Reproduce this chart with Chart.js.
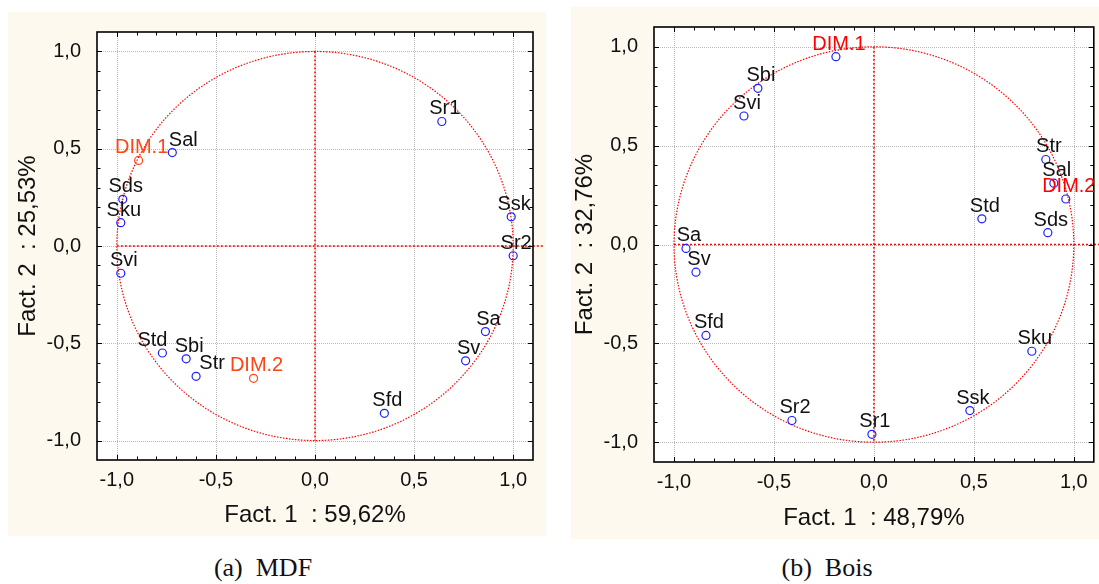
<!DOCTYPE html>
<html lang="fr">
<head>
<meta charset="UTF-8">
<title>Cercles des corrélations : MDF / Bois</title>
<script src="https://cdn.jsdelivr.net/npm/chart.js@4.4.1/dist/chart.umd.min.js"></script>
<style>
  body { margin: 0; background: #fff; width: 1099px; height: 584px; position: relative; overflow: hidden; }
  .panel { position: absolute; }
  .caption { position: absolute; font-family: "Liberation Serif", "DejaVu Serif", serif; font-size: 26px; color: #111; transform: translateX(-50%); white-space: pre; }
</style>
</head>
<body>
<div class="panel" style="left:8px;top:12px;"><canvas id="mdf" width="538" height="524"></canvas></div>
<div class="panel" style="left:571px;top:7px;"><canvas id="bois" width="528" height="532"></canvas></div>
<div class="caption" style="left:263px;top:553px">(a)  MDF</div>
<div class="caption" style="left:827px;top:553px">(b)  Bois</div>

<script>
// tick values shared by both plots
const axisTicks = [-1, -0.5, 0, 0.5, 1];

// (a) MDF
const mdfNames = ['Sr1', 'Sal', 'DIM.1', 'Sds', 'Sku', 'Svi', 'Ssk', 'Sr2', 'Sa', 'Sv', 'Sfd', 'Std', 'Sbi', 'Str', 'DIM.2'];
const mdfX = [0.64, -0.72, -0.89, -0.97, -0.98, -0.98, 0.99, 1.00, 0.86, 0.76, 0.35, -0.77, -0.65, -0.60, -0.31];
const mdfY = [0.64, 0.48, 0.44, 0.24, 0.12, -0.14, 0.15, -0.05, -0.44, -0.59, -0.86, -0.55, -0.58, -0.67, -0.68];

// (b) Bois
const boisNames = ['DIM.1', 'Sbi', 'Svi', 'Str', 'Sal', 'DIM.2', 'Std', 'Sds', 'Sa', 'Sv', 'Sfd', 'Sr2', 'Sr1', 'Ssk', 'Sku'];
const boisX = [-0.19, -0.58, -0.65, 0.86, 0.90, 0.96, 0.54, 0.87, -0.94, -0.89, -0.84, -0.41, -0.01, 0.48, 0.79];
const boisY = [0.95, 0.79, 0.65, 0.43, 0.31, 0.23, 0.13, 0.06, -0.02, -0.14, -0.46, -0.89, -0.96, -0.84, -0.54];

const BLUE = 'rgb(30,30,255)';
const RED = 'rgb(255,0,0)';
const FONT = '"Liberation Sans", Arial, Helvetica, sans-serif';

// draws background, grid, unit circle, red axes, frame, inner ticks and point labels
const pcaDecor = {
    id: 'pcaDecor',
    beforeDraw(chart, args, o) {
        const ctx = chart.ctx, a = chart.chartArea;
        const xs = chart.scales.x, ys = chart.scales.y;
        ctx.save();
        ctx.fillStyle = '#fdf9ee';
        ctx.fillRect(0, 0, chart.width, chart.height);
        ctx.fillStyle = '#fff';
        ctx.fillRect(a.left, a.top, a.right - a.left, a.bottom - a.top);

        // dotted grey grid
        ctx.strokeStyle = 'rgb(185,185,185)';
        ctx.lineWidth = 1;
        ctx.setLineDash([1, 1]);
        axisTicks.forEach(v => {
            const px = Math.round(xs.getPixelForValue(v)) + 0.5;
            const py = Math.round(ys.getPixelForValue(v)) + 0.5;
            ctx.beginPath(); ctx.moveTo(px, a.top); ctx.lineTo(px, a.bottom); ctx.stroke();
            ctx.beginPath(); ctx.moveTo(a.left, py); ctx.lineTo(a.right, py); ctx.stroke();
        });

        // unit circle
        const cx = xs.getPixelForValue(0), cy = ys.getPixelForValue(0);
        const rx = xs.getPixelForValue(1) - cx, ry = cy - ys.getPixelForValue(1);
        ctx.strokeStyle = RED;
        ctx.lineWidth = 1.2;
        ctx.setLineDash([1.5, 1.5]);
        ctx.beginPath(); ctx.ellipse(cx, cy, rx, ry, 0, 0, Math.PI * 2); ctx.stroke();

        // red axes through the origin
        ctx.lineWidth = 1.5;
        ctx.setLineDash([2, 2]);
        ctx.beginPath();
        ctx.moveTo(cx, ys.getPixelForValue(1)); ctx.lineTo(cx, ys.getPixelForValue(-1));
        ctx.stroke();
        ctx.beginPath();
        ctx.moveTo(xs.getPixelForValue(-1), cy); ctx.lineTo(a.right + 10, cy);
        ctx.stroke();
        ctx.restore();
    },
    afterDatasetsDraw(chart, args, o) {
        const ctx = chart.ctx, a = chart.chartArea;
        const xs = chart.scales.x, ys = chart.scales.y;
        ctx.save();
        ctx.setLineDash([]);
        ctx.strokeStyle = '#000';
        ctx.lineWidth = 1;
        // small inner ticks every 0.1
        for (let i = -10; i <= 10; i++) {
            const v = i / 10;
            const len = i % 5 === 0 ? 5 : 3.5;
            const px = Math.round(xs.getPixelForValue(v)) + 0.5;
            const py = Math.round(ys.getPixelForValue(v)) + 0.5;
            ctx.beginPath();
            ctx.moveTo(px, a.bottom); ctx.lineTo(px, a.bottom - len);
            ctx.moveTo(px, a.top); ctx.lineTo(px, a.top + len);
            ctx.moveTo(a.left, py); ctx.lineTo(a.left + len, py);
            ctx.moveTo(a.right, py); ctx.lineTo(a.right - len, py);
            ctx.stroke();
        }
        ctx.lineWidth = 1.6;
        ctx.strokeRect(a.left, a.top, a.right - a.left, a.bottom - a.top);

        // point labels
        const meta = chart.getDatasetMeta(0);
        ctx.font = '20px ' + FONT;
        ctx.textAlign = 'center';
        ctx.textBaseline = 'alphabetic';
        o.names.forEach((n, i) => {
            const el = meta.data[i];
            const dx = o.dx + (o.nudge[n] || 0);
            ctx.fillStyle = n.startsWith('DIM') ? o.dimLabel : '#111';
            ctx.fillText(n, el.x + dx, el.y - 7);
        });
        ctx.restore();
    }
};

function tickLabel(v) {
    return v.toFixed(1).replace('.', ',');
}

function makeChart(id, names, xs, ys, opt) {
    const tickFont = { family: FONT, size: 20 };
    const titleFont = { family: FONT, size: 24 };
    return new Chart(document.getElementById(id), {
        type: 'scatter',
        data: {
            datasets: [{
                data: xs.map((x, i) => ({ x: x, y: ys[i] })),
                pointStyle: 'circle',
                pointRadius: 4,
                pointHoverRadius: 4,
                pointBorderWidth: 1.2,
                pointBackgroundColor: 'rgba(0,0,0,0)',
                pointBorderColor: names.map(n => n.startsWith('DIM') ? opt.dimPoint : BLUE)
            }]
        },
        options: {
            responsive: false,
            animation: false,
            events: [],
            layout: { padding: { left: 0, top: 16, right: opt.padRight, bottom: 0 } },
            plugins: {
                legend: { display: false },
                tooltip: { enabled: false },
                pcaDecor: { names: names, dx: opt.dx, nudge: opt.nudge, dimLabel: opt.dimLabel }
            },
            scales: {
                x: {
                    type: 'linear', min: -1.1, max: 1.1,
                    afterBuildTicks: s => { s.ticks = axisTicks.map(v => ({ value: v })); },
                    afterFit: s => { s.height = opt.xAxisH; },
                    grid: { display: false },
                    border: { display: false },
                    ticks: { padding: 0, font: tickFont, color: '#111', maxRotation: 0, autoSkip: false, callback: tickLabel },
                    title: { display: true, text: opt.xTitle, font: titleFont, color: '#111', padding: { top: 0, bottom: 6 } }
                },
                y: {
                    type: 'linear', min: -1.1, max: 1.1,
                    afterBuildTicks: s => { s.ticks = axisTicks.map(v => ({ value: v })); },
                    afterFit: s => { s.width = opt.yAxisW; },
                    grid: { display: false },
                    border: { display: false },
                    ticks: { padding: 8, font: tickFont, color: '#111', autoSkip: false, callback: tickLabel },
                    title: { display: true, text: opt.yTitle, font: titleFont, color: '#111', padding: { top: opt.yTitlePad, bottom: 0 } }
                }
            }
        },
        plugins: [pcaDecor]
    });
}

makeChart('mdf', mdfNames, mdfX, mdfY, {
    xTitle: 'Fact. 1  : 59,62%', yTitle: 'Fact. 2  : 25,53%',
    xAxisH: 76, yAxisW: 89, padRight: 13, yTitlePad: 6,
    dx: 3, nudge: { Sal: 8, Std: -13, Str: 13 },
    dimPoint: 'rgb(255,69,20)', dimLabel: 'rgb(255,69,20)'
});

makeChart('bois', boisNames, boisX, boisY, {
    xTitle: 'Fact. 1  : 48,79%', yTitle: 'Fact. 2  : 32,76%',
    xAxisH: 77, yAxisW: 83, padRight: 2, yTitlePad: 0,
    dx: 3, nudge: {},
    dimPoint: BLUE, dimLabel: RED
});
</script>
</body>
</html>
